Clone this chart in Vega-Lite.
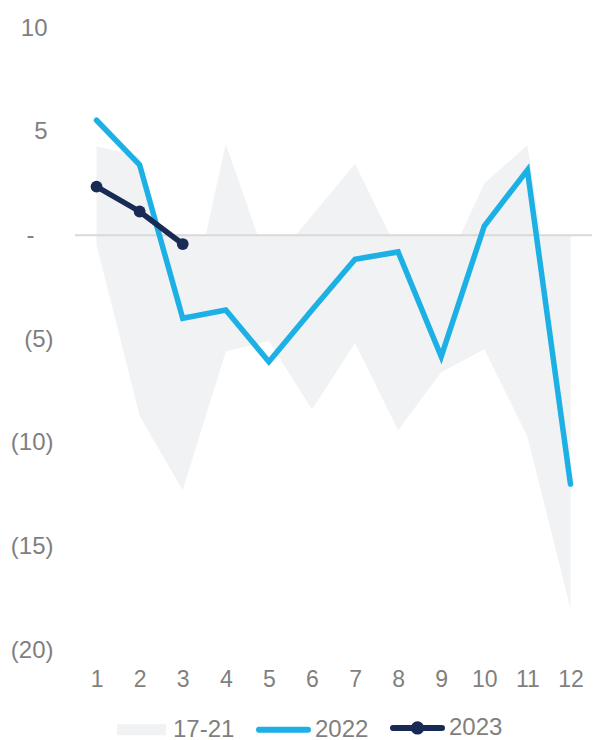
{
  "$schema": "https://vega.github.io/schema/vega-lite/v6.json",
  "width": 517,
  "height": 622,
  "autosize": "none",
  "padding": {"left": 75, "top": 28, "right": 7, "bottom": 90},
  "background": "white",
  "config": {
    "view": {"stroke": null},
    "font": "Liberation Sans",
    "axis": {"labelFont": "Liberation Sans", "labelColor": "#7f7f7f", "labelFontSize": 23, "grid": false, "domain": false, "ticks": false, "title": null},
    "axisY": {"labelFontSize": 24},
    "legend": {"labelFont": "Liberation Sans", "labelColor": "#7f7f7f", "labelFontSize": 24}
  },
  "datasets": {
    "band": [
      {"month": 1, "series": "17-21", "hi": 4.3, "lo": -0.45},
      {"month": 2, "series": "17-21", "hi": 3.8, "lo": -8.7},
      {"month": 3, "series": "17-21", "hi": -5.0, "lo": -12.3},
      {"month": 4, "series": "17-21", "hi": 4.4, "lo": -5.6},
      {"month": 5, "series": "17-21", "hi": -1.55, "lo": -5.1},
      {"month": 6, "series": "17-21", "hi": 0.95, "lo": -8.4},
      {"month": 7, "series": "17-21", "hi": 3.45, "lo": -5.2},
      {"month": 8, "series": "17-21", "hi": -0.8, "lo": -9.4},
      {"month": 9, "series": "17-21", "hi": -2.0, "lo": -6.6},
      {"month": 10, "series": "17-21", "hi": 2.5, "lo": -5.5},
      {"month": 11, "series": "17-21", "hi": 4.35, "lo": -9.7},
      {"month": 12, "series": "17-21", "hi": -9.0, "lo": -18.0}
    ],
    "lines": [
      {"month": 1, "series": "2022", "value": 5.55},
      {"month": 2, "series": "2022", "value": 3.4},
      {"month": 3, "series": "2022", "value": -4.0},
      {"month": 4, "series": "2022", "value": -3.6},
      {"month": 5, "series": "2022", "value": -6.1},
      {"month": 6, "series": "2022", "value": -3.6},
      {"month": 7, "series": "2022", "value": -1.15},
      {"month": 8, "series": "2022", "value": -0.8},
      {"month": 9, "series": "2022", "value": -5.85},
      {"month": 10, "series": "2022", "value": 0.45},
      {"month": 11, "series": "2022", "value": 3.15},
      {"month": 12, "series": "2022", "value": -12.0},
      {"month": 1, "series": "2023", "value": 2.35},
      {"month": 2, "series": "2023", "value": 1.15},
      {"month": 3, "series": "2023", "value": -0.42}
    ]
  },
  "encoding": {
    "x": {
      "field": "month", "type": "quantitative",
      "scale": {"domain": [0.5, 12.5], "nice": false, "zero": false},
      "axis": {"values": [1,2,3,4,5,6,7,8,9,10,11,12], "format": "d", "labelPadding": 18}
    },
    "y": {
      "field": "value", "type": "quantitative",
      "scale": {"domain": [-20, 10], "nice": false, "zero": false},
      "axis": {
        "values": [-20,-15,-10,-5,0,5,10],
        "labelExpr": "datum.value > 0 ? '' + datum.value : datum.value < 0 ? '(' + (-datum.value) + ')' : '-'",
        "labelPadding": {"condition": [{"test": "datum.value > 0", "value": 28}, {"test": "datum.value === 0", "value": 41}], "value": 22}
      }
    },
    "color": {"field": "series", "type": "nominal",
      "scale": {"domain": ["17-21", "2022", "2023"], "range": ["#f1f2f4", "#1cb0e5", "#172b54"]},
      "legend": {
        "title": null, "orient": "none", "direction": "horizontal",
        "legendX": 39, "legendY": 672,
        "padding": 0, "symbolSize": 2401, "symbolStrokeWidth": 6, "labelOffset": 4, "columnPadding": 12,
        "encode": {
          "symbols": {
            "update": {
              "shape": {"signal": "datum.value === '17-21' ? 'M-1,-0.22H1V0.22H-1Z' : datum.value === '2022' ? 'M-1,0H1' : 'M-1,0H1M0.15,0A0.15,0.15 0 1 1 -0.15,0A0.15,0.15 0 1 1 0.15,0'"},
              "size": {"value": 2401},
              "fill": {"scale": "color", "field": "value"},
              "stroke": {"scale": "color", "field": "value"},
              "strokeWidth": {"value": 6},
              "strokeOpacity": {"signal": "datum.value === '17-21' ? 0 : 1"},
              "strokeCap": {"value": "round"},
              "opacity": {"value": 1},
              "fillOpacity": {"value": 1}
            }
          }
        }
      }
    }
  },
  "layer": [
    {
      "data": {"name": "band"},
      "transform": [{"fold": ["hi", "lo"], "as": ["edge", "value"]}, {"filter": "datum.edge === 'hi'"}],
      "mark": {"type": "area", "interpolate": "linear"},
      "encoding": {"y2": {"datum": 0}}
    },
    {
      "data": {"name": "band"},
      "transform": [{"fold": ["hi", "lo"], "as": ["edge", "value"]}, {"filter": "datum.edge === 'lo'"}],
      "mark": {"type": "area", "interpolate": "linear"},
      "encoding": {"y2": {"datum": 0}}
    },
    {
      "data": {"values": [{"value": 0}]},
      "mark": {"type": "rule", "color": "#d9d9d9", "strokeWidth": 2},
      "encoding": {"x": {"value": 0}, "x2": {"value": 517}, "color": {"value": "#d9d9d9"}}
    },
    {
      "data": {"name": "lines"},
      "mark": {"type": "line", "strokeWidth": 5.5, "strokeCap": "round"}
    },
    {
      "data": {"name": "lines"},
      "transform": [{"filter": "datum.series === '2023'"}],
      "mark": {"type": "point", "filled": true, "size": 140, "opacity": 1}
    }
  ]
}
